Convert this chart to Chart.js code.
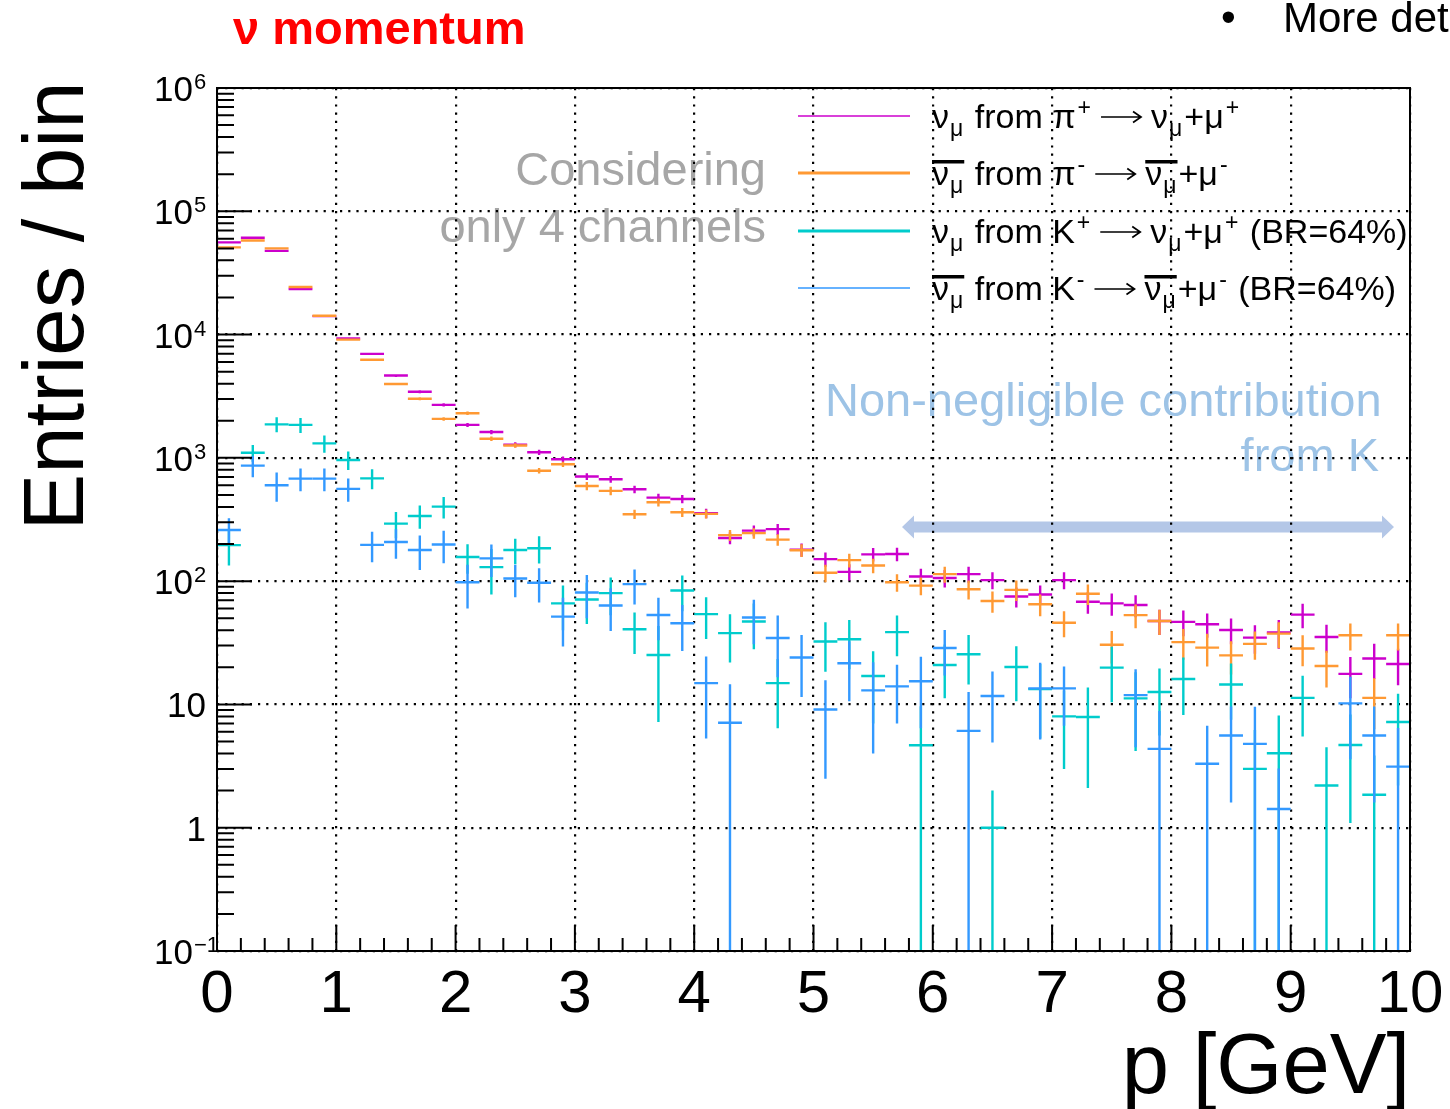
<!DOCTYPE html>
<html>
<head>
<meta charset="utf-8">
<title>ν momentum</title>
<script src="https://cdn.jsdelivr.net/npm/chart.js@4.4.1/dist/chart.umd.min.js"></script>
<style>
  html, body { margin: 0; padding: 0; background: #ffffff; }
  canvas { display: block; }
</style>
</head>
<body>
<canvas id="chart" width="1450" height="1109"></canvas>
<script>
// ---- histogram binning (0.2 GeV bins, 0-10 GeV) ----
const binWidth = 0.2;
const binCenters = [0.1, 0.3, 0.5, 0.7, 0.9, 1.1, 1.3, 1.5, 1.7, 1.9,
                    2.1, 2.3, 2.5, 2.7, 2.9, 3.1, 3.3, 3.5, 3.7, 3.9,
                    4.1, 4.3, 4.5, 4.7, 4.9, 5.1, 5.3, 5.5, 5.7, 5.9,
                    6.1, 6.3, 6.5, 6.7, 6.9, 7.1, 7.3, 7.5, 7.7, 7.9,
                    8.1, 8.3, 8.5, 8.7, 8.9, 9.1, 9.3, 9.5, 9.7, 9.9];

// ---- nu_mu from pi+ -> nu_mu + mu+ ----
const piPlusCounts = [56000, 61000, 47700, 23400, 14100, 9300, 6970, 4650, 3440, 2690,
                      1850, 1620, 1280, 1110, 975, 705, 670, 556, 476, 464,
                      355, 224, 257, 264, 180, 151, 119, 165, 166, 109,
                      106, 114, 102, 75, 78, 102, 68, 66, 64, 47.5,
                      46.7, 44.7, 40.2, 34.8, 38.3, 53.5, 35.2, 17.7, 23.6, 21.3];
const piPlusErrors = [390, 410, 360, 250, 195, 160, 140, 113, 97, 86,
                      71, 66, 59, 55, 52, 44, 43, 39, 36, 36,
                      31, 25, 26, 27, 22, 20, 18, 21, 21, 17,
                      17, 17, 16, 14, 14, 16, 13.5, 13.5, 13, 11,
                      11, 10, 9.5, 9, 10, 12, 9, 6.5, 7.5, 7];

// ---- anti-nu_mu from pi- -> anti-nu_mu + mu- ----
const piMinusCounts = [51000, 58000, 50000, 24300, 14200, 9100, 6250, 3970, 3020, 2070,
                       2300, 1430, 1260, 787, 887, 592, 540, 349, 436, 362,
                       351, 236, 245, 217, 178, 117, 148, 134, 98, 92,
                       114, 86, 69, 85, 65, 46, 79, 30.5, 53, 47.5,
                       32, 28.9, 25, 31, 37.5, 28.4, 20.5, 36.4, 11.3, 36.4];
const piMinusErrors = [340, 360, 330, 230, 180, 140, 120, 95, 82, 68,
                       72, 57, 53, 42, 45, 45, 42, 30, 33, 30,
                       29, 24, 24, 23, 21, 19, 19, 18, 16, 15,
                       17, 15, 13.5, 16, 13, 11, 15, 9, 11.5, 11,
                       9, 8.6, 7.5, 8, 9, 8, 6.8, 9, 5, 9];

// ---- nu_mu from K+ -> nu_mu + mu+ (BR=64%) ; null = empty bin ----
const kPlusCounts = [196, 1100, 1870, 1850, 1310, 962, 682, 293, 338, 402,
                     157, 130, 179, 185, 66, 71, 80, 40.7, 25.2, 84,
                     54, 37.9, 47, 14.9, null, 32.4, 33.8, 17, 38.6, 4.67,
                     20.9, 25.5, 1.0, 20.1, 13.3, 8.0, 7.9, 19.9, 11.2, 12.6,
                     16.1, null, 14.5, 3.0, 4.02, 11.3, 2.2, 4.69, 1.85, 7.2];
const kPlusErrors = [62, 170, 260, 260, 210, 165, 125, 70, 72, 80,
                     42, 52, 42, 46, 26, 26, 27, 15, 18, 27,
                     20, 16, 19, 8.5, null, 14, 14.5, 10, 14, 5,
                     9.7, 11, 1.0, 9.5, 8, 5, 5.8, 9.5, 7, 7,
                     7.9, null, 7, 3.2, 4.1, 5.8, 2.3, 3.6, 2, 5];

// ---- anti-nu_mu from K- -> anti-nu_mu + mu- (BR=64%) ; null = empty bin ----
const kMinusCounts = [260, 865, 600, 678, 678, 560, 197, 208, 179, 198,
                      98, 153, 105, 97, 51.5, 81, 63.4, 94.5, 53.2, 45.6,
                      14.9, 7.1, 50.7, 34.6, 24, 9.1, 21.6, 13, 14, 15.4,
                      28.7, 6.1, 11.7, null, 13.5, 13.5, null, null, 11.9, 4.36,
                      null, 3.3, 5.6, 4.79, 1.42, null, null, 10.2, 5.6, 3.13];
const kMinusErrors = [64, 170, 160, 142, 142, 120, 55, 56, 56, 58,
                      38, 45, 31, 30, 22, 31, 24, 30, 20, 18.5,
                      9.6, 7.5, 20, 18, 12.5, 6.6, 11, 9, 7, 9,
                      11.5, 6.5, 6.8, null, 8.3, 6.8, null, null, 7.4, 4.5,
                      null, 3.4, 4, 4.8, 1.6, null, null, 6.6, 4, 3.3];

// ---- axis ticks ----
const xTickValues = [0, 1, 2, 3, 4, 5, 6, 7, 8, 9, 10];
const xTickLabels = ['0', '1', '2', '3', '4', '5', '6', '7', '8', '9', '10'];
const yTickValues = [0.1, 1, 10, 100, 1000, 10000, 100000, 1000000];
const yTickBases = ['10', '1', '10', '10', '10', '10', '10', '10'];
const yTickExponents = ['\u22121', '', '', '2', '3', '4', '5', '6'];

const FONT = '"Liberation Sans", Arial, Helvetica, sans-serif';
const colMagenta = '#cc00cc';
const colOrange = '#ff9933';
const colCyan = '#00cccc';
const colBlue = '#3399ff';

function toPoints(counts, errors) {
  const pts = [];
  counts.forEach((c, i) => {
    if (c !== null) pts.push({ x: binCenters[i], y: c, e: errors[i] });
  });
  return pts;
}

// Draws each bin as a ROOT-style error cross (bin-width horizontal bar + vertical error bar)
const errorCrossPlugin = {
  id: 'errorCross',
  afterDatasetsDraw(chart) {
    const { ctx, chartArea: a } = chart;
    const xs = chart.scales.x, ys = chart.scales.y;
    ctx.save();
    ctx.beginPath();
    ctx.rect(a.left, a.top, a.right - a.left, a.bottom - a.top);
    ctx.clip();
    chart.data.datasets.forEach((ds, di) => {
      const meta = chart.getDatasetMeta(di);
      ctx.strokeStyle = ds.borderColor;
      ctx.lineWidth = ds.borderWidth;
      ctx.lineCap = 'butt';
      meta.data.forEach((el, i) => {
        const p = ds.data[i];
        const xl = xs.getPixelForValue(p.x - binWidth / 2);
        const xr = xs.getPixelForValue(p.x + binWidth / 2);
        const yTop = ys.getPixelForValue(p.y + p.e);
        const lo = p.y - p.e;
        const yBot = lo > ys.min ? ys.getPixelForValue(lo) : a.bottom + 2;
        ctx.beginPath();
        ctx.moveTo(xl, el.y); ctx.lineTo(xr, el.y);
        ctx.moveTo(el.x, yTop); ctx.lineTo(el.x, yBot);
        ctx.stroke();
      });
    });
    ctx.restore();
  }
};

// Rich text pieces: {t, sub, sup, bar} or {arrow: true}
function drawRich(ctx, x, y, parts, size) {
  const small = Math.round(size * 0.68);
  let cx = x;
  parts.forEach(p => {
    if (p.arrow) {
      // long right arrow between the decay terms
      const x0 = cx + 8, x1 = cx + 48, ay = y - 11;
      ctx.save();
      ctx.strokeStyle = '#000000';
      ctx.lineWidth = 1.7;
      ctx.beginPath();
      ctx.moveTo(x0, ay); ctx.lineTo(x1, ay);
      ctx.moveTo(x1 - 8, ay - 5.5); ctx.lineTo(x1, ay); ctx.lineTo(x1 - 8, ay + 5.5);
      ctx.stroke();
      ctx.restore();
      cx = x1 + 10;
      return;
    }
    ctx.font = `${size}px ${FONT}`;
    const start = cx;
    ctx.fillText(p.t, cx, y);
    let w = ctx.measureText(p.t).width;
    let extra = 0;
    if (p.sub) {
      ctx.font = `${small}px ${FONT}`;
      ctx.fillText(p.sub, cx + w + 1, y + 8);
      extra = Math.max(extra, ctx.measureText(p.sub).width + 3);
    }
    if (p.sup) {
      ctx.font = `${small}px ${FONT}`;
      ctx.fillText(p.sup, cx + w + 2, y - 13);
      extra = Math.max(extra, ctx.measureText(p.sup).width + 4);
    }
    cx += w + extra;
    if (p.bar) {
      ctx.fillRect(start, y - 25, cx - start - 1, 3.5);
    }
  });
}

const legendRows = [
  { color: colMagenta, width: 1.6, parts: [
    { t: 'ν', sub: 'μ' }, { t: ' from ' }, { t: 'π', sup: '+' }, { arrow: true },
    { t: 'ν', sub: 'μ' }, { t: '+' }, { t: 'μ', sup: '+' } ] },
  { color: colOrange, width: 3, parts: [
    { t: 'ν', sub: 'μ', bar: true }, { t: ' from ' }, { t: 'π', sup: '-' }, { arrow: true },
    { t: 'ν', sub: 'μ', bar: true }, { t: '+' }, { t: 'μ', sup: '-' } ] },
  { color: colCyan, width: 3.2, parts: [
    { t: 'ν', sub: 'μ' }, { t: ' from ' }, { t: 'K', sup: '+' }, { arrow: true },
    { t: 'ν', sub: 'μ' }, { t: '+' }, { t: 'μ', sup: '+' }, { t: ' (BR=64%)' } ] },
  { color: colBlue, width: 1.6, parts: [
    { t: 'ν', sub: 'μ', bar: true }, { t: ' from ' }, { t: 'K', sup: '-' }, { arrow: true },
    { t: 'ν', sub: 'μ', bar: true }, { t: '+' }, { t: 'μ', sup: '-' }, { t: ' (BR=64%)' } ] }
];

const decorPlugin = {
  id: 'decor',
  beforeDraw(chart) {
    const ctx = chart.ctx;
    ctx.save();
    ctx.fillStyle = '#ffffff';
    ctx.fillRect(0, 0, chart.width, chart.height);

    // slide title
    ctx.fillStyle = '#ff0000';
    ctx.font = `bold 47px ${FONT}`;
    ctx.textAlign = 'left';
    ctx.textBaseline = 'alphabetic';
    ctx.fillText('ν momentum', 233, 44);

    // bullet text at top right
    ctx.fillStyle = '#000000';
    ctx.font = `42px ${FONT}`;
    ctx.fillText('•', 1221, 31);
    ctx.fillText('More details', 1283, 32);

    // notes inside the frame
    ctx.fillStyle = '#a6a6a6';
    ctx.font = `47px ${FONT}`;
    ctx.textAlign = 'right';
    ctx.fillText('Considering', 766, 185);
    ctx.fillText('only 4 channels', 766, 242);

    ctx.fillStyle = '#9dc3e6';
    ctx.textAlign = 'left';
    ctx.fillText('Non-negligible contribution', 825, 416);
    ctx.textAlign = 'right';
    ctx.fillText('from K', 1379, 471);

    // double-headed range arrow (6 - 10 GeV)
    ctx.fillStyle = '#b4c7e7';
    ctx.beginPath();
    ctx.moveTo(902, 527);
    ctx.lineTo(914, 515.5);
    ctx.lineTo(914, 521.5);
    ctx.lineTo(1382, 521.5);
    ctx.lineTo(1382, 515.5);
    ctx.lineTo(1394, 527);
    ctx.lineTo(1382, 538.5);
    ctx.lineTo(1382, 532.5);
    ctx.lineTo(914, 532.5);
    ctx.lineTo(914, 538.5);
    ctx.closePath();
    ctx.fill();
    ctx.restore();
  },
  afterDraw(chart) {
    const { ctx, chartArea: a } = chart;
    const xs = chart.scales.x, ys = chart.scales.y;
    ctx.save();
    ctx.strokeStyle = '#000000';
    ctx.fillStyle = '#000000';

    // frame
    ctx.lineWidth = 2;
    ctx.strokeRect(a.left, a.top, a.right - a.left, a.bottom - a.top);

    // x tick marks (inside, pointing up)
    ctx.lineWidth = 2;
    ctx.beginPath();
    for (let k = 0; k <= 50; k++) {
      const px = xs.getPixelForValue(k * binWidth);
      const len = (k % 5 === 0) ? 26 : 13;
      ctx.moveTo(px, a.bottom);
      ctx.lineTo(px, a.bottom - len);
    }
    ctx.stroke();

    // y tick marks (inside, pointing right)
    ctx.beginPath();
    for (let d = -1; d <= 5; d++) {
      for (let m = 1; m <= 9; m++) {
        const py = ys.getPixelForValue(m * Math.pow(10, d));
        const len = (m === 1) ? 35 : 17;
        ctx.moveTo(a.left, py);
        ctx.lineTo(a.left + len, py);
      }
    }
    ctx.moveTo(a.left, a.top); ctx.lineTo(a.left + 35, a.top);
    ctx.stroke();

    // x tick labels
    ctx.font = `60px ${FONT}`;
    ctx.textAlign = 'center';
    ctx.textBaseline = 'alphabetic';
    xTickValues.forEach((v, i) => {
      ctx.fillText(xTickLabels[i], xs.getPixelForValue(v), 1012);
    });

    // y tick labels with exponents
    yTickValues.forEach((v, i) => {
      const py = ys.getPixelForValue(v);
      if (yTickExponents[i]) {
        ctx.font = `35px ${FONT}`;
        ctx.textAlign = 'right';
        ctx.fillText(yTickBases[i], 193, py + 13);
        ctx.font = `22px ${FONT}`;
        ctx.textAlign = 'left';
        ctx.fillText(yTickExponents[i], 194, py + 1);
      } else {
        ctx.font = `35px ${FONT}`;
        ctx.textAlign = 'right';
        ctx.fillText(yTickBases[i], 206, py + 13);
      }
    });

    // axis titles
    ctx.font = `85px ${FONT}`;
    ctx.textAlign = 'right';
    ctx.fillText('p [GeV]', 1410, 1093);
    ctx.save();
    ctx.translate(83, 306);
    ctx.rotate(-Math.PI / 2);
    ctx.textAlign = 'center';
    ctx.fillText('Entries / bin', 0, 0);
    ctx.restore();

    // legend
    const rowY = [116, 173, 231, 288];
    legendRows.forEach((row, i) => {
      ctx.strokeStyle = row.color;
      ctx.lineWidth = row.width;
      ctx.beginPath();
      ctx.moveTo(798, rowY[i]);
      ctx.lineTo(910, rowY[i]);
      ctx.stroke();
      ctx.fillStyle = '#000000';
      ctx.textAlign = 'left';
      drawRich(ctx, 932, rowY[i] + 12, row.parts, 34);
    });
    ctx.restore();
  }
};

const chart = new Chart(document.getElementById('chart'), {
  type: 'scatter',
  data: {
    datasets: [
      { label: 'ν_μ from π+', data: toPoints(piPlusCounts, piPlusErrors),
        borderColor: colMagenta, backgroundColor: colMagenta, borderWidth: 2.4 },
      { label: 'anti-ν_μ from π-', data: toPoints(piMinusCounts, piMinusErrors),
        borderColor: colOrange, backgroundColor: colOrange, borderWidth: 2.4 },
      { label: 'ν_μ from K+', data: toPoints(kPlusCounts, kPlusErrors),
        borderColor: colCyan, backgroundColor: colCyan, borderWidth: 2.4 },
      { label: 'anti-ν_μ from K-', data: toPoints(kMinusCounts, kMinusErrors),
        borderColor: colBlue, backgroundColor: colBlue, borderWidth: 2.4 }
    ]
  },
  options: {
    responsive: false,
    animation: false,
    devicePixelRatio: 1,
    events: [],
    elements: { point: { radius: 0, hoverRadius: 0 } },
    layout: { padding: { left: 0, right: 40, top: 88, bottom: 0 } },
    plugins: {
      legend: { display: false },
      tooltip: { enabled: false },
      title: { display: false }
    },
    scales: {
      x: {
        type: 'linear',
        min: 0, max: 10,
        afterBuildTicks: s => { s.ticks = xTickValues.map(v => ({ value: v })); },
        afterFit: s => { s.height = 158; },
        ticks: { display: false },
        grid: { color: '#000000', lineWidth: 2.2, drawTicks: false },
        border: { display: false, dash: [2.2, 6] }
      },
      y: {
        type: 'logarithmic',
        min: 0.1, max: 1000000,
        afterBuildTicks: s => { s.ticks = yTickValues.map(v => ({ value: v })); },
        afterFit: s => { s.width = 217; },
        ticks: { display: false },
        grid: { color: '#000000', lineWidth: 2.2, drawTicks: false },
        border: { display: false, dash: [2.2, 6] }
      }
    }
  },
  plugins: [decorPlugin, errorCrossPlugin]
});
</script>
</body>
</html>
